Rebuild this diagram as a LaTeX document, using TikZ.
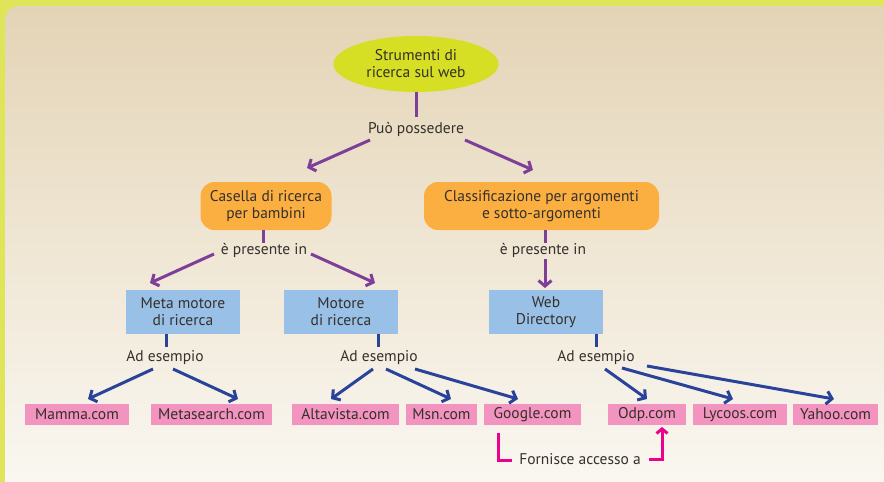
\documentclass[tikz,border=0pt]{standalone}
\usepackage{fontspec}
\setmainfont{PT Sans}
\usetikzlibrary{shapes.geometric,arrows.meta,calc}
\definecolor{frameyel}{HTML}{DFE558}
\definecolor{bgtop}{HTML}{E4D4B6}
\definecolor{bgbot}{HTML}{FBF9F4}
\definecolor{ellfill}{HTML}{D6DF23}
\definecolor{orangefill}{HTML}{FBAF41}
\definecolor{bluefill}{HTML}{99C0E6}
\definecolor{pinkfill}{HTML}{F393BF}
\definecolor{purpleline}{HTML}{7D3F98}
\definecolor{blueline}{HTML}{2A439A}
\definecolor{magline}{HTML}{EC008C}
\definecolor{txt}{HTML}{35302C}
\begin{document}
\begin{tikzpicture}[x=1pt,y=-1pt,
  font=\fontsize{15.5}{17}\selectfont, text=txt,
  ell/.style={ellipse, fill=ellfill, minimum width=165pt, minimum height=56pt, inner sep=0pt, align=center},
  obox/.style={rounded corners=14pt, fill=orangefill, minimum height=48pt, align=center, inner sep=0pt},
  bbox/.style={fill=bluefill, minimum width=114pt, minimum height=44pt, align=center, inner sep=0pt},
  pbox/.style={fill=pinkfill, minimum height=21pt, inner sep=0pt},
  lbl/.style={inner sep=1pt},
  tipb/.tip={Straight Barb[length=5.5pt,width=13pt]},
  pline/.style={draw=purpleline, line width=3pt},
  parr/.style={pline, -tipb},
  bline/.style={draw=blueline, line width=3pt},
  barr/.style={bline, -tipb},
  mline/.style={draw=magline, line width=3pt},
  marr/.style={mline, -{Straight Barb[length=4.5pt,width=11pt]}}
]
\useasboundingbox (0,0) rectangle (884,482);
% background
\fill[frameyel] (0,0) rectangle (884,482);
\shade[top color=bgtop, bottom color=bgbot, rounded corners=14pt] (5,6) rectangle (905,505);

% nodes
\node[ell] (root) at (416,64) {Strumenti di\\ricerca sul web};
\node[lbl] (pp) at (416,129) {Può possedere};
\node[obox, minimum width=131pt] (cas) at (266,206) {Casella di ricerca\\per bambini};
\node[obox, minimum width=235pt] (cla) at (541.5,206) {Classificazione per argomenti\\e sotto-argomenti};
\node[lbl] (ep1) at (264,250) {è presente in};
\node[lbl] (ep2) at (543,250) {è presente in};
\node[bbox] (meta) at (183,312) {Meta motore\\di ricerca};
\node[bbox] (mot) at (341,312) {Motore\\di ricerca};
\node[bbox] (web) at (546,312) {Web\\Directory};
\node[lbl] (ad1) at (165,358) {Ad esempio};
\node[lbl] (ad2) at (379,358) {Ad esempio};
\node[lbl] (ad3) at (596,358) {Ad esempio};
\node[pbox, minimum width=104pt] (mam) at (77,414.5) {Mamma.com};
\node[pbox, minimum width=121pt] (mse) at (211.5,414.5) {Metasearch.com};
\node[pbox, minimum width=107pt] (alt) at (345.5,414.5) {Altavista.com};
\node[pbox, minimum width=71pt] (msn) at (441.5,414.5) {Msn.com};
\node[pbox, minimum width=97pt] (goo) at (532.5,414.5) {Google.com};
\node[pbox, minimum width=78pt] (odp) at (647,414.5) {Odp.com};
\node[pbox, minimum width=94pt] (lyc) at (740,414.5) {Lycoos.com};
\node[pbox, minimum width=85pt] (yah) at (835.5,414.5) {Yahoo.com};
\node[lbl] (fa) at (580,459) {Fornisce accesso a};

% arrow end points
\coordinate (eCas) at (307,168);
\coordinate (eCla) at (533,170);
\coordinate (eMeta) at (150,283);
\coordinate (eMot) at (375,283);
\coordinate (eMam) at (88,399);
\coordinate (eMse) at (238,399);
\coordinate (eAlt) at (331,399);
\coordinate (eMsn) at (451,399);
\coordinate (eGoo) at (518,399);
\coordinate (eOdp) at (647,399);
\coordinate (eLyc) at (733,399);
\coordinate (eYah) at (834,399);

% connectors
\draw[pline] (root.south) -- (416,117);
\draw[parr] (370,140) -- (eCas);
\draw[parr] (465,140) -- (eCla);
\draw[pline] (263,230) -- (263,243);
\draw[parr] (214,254) -- (eMeta);
\draw[parr] (311,254) -- (eMot);
\draw[pline] (545,230) -- (545,243);
\draw[parr] (545,259) -- (545,288);

\draw[bline] (166,334) -- (166,347);
\draw[bline] (378,334) -- (378,347);
\draw[bline] (596,334) -- (596,347);
\draw[barr] (153,369) -- (eMam);
\draw[barr] (173,369) -- (eMse);
\draw[barr] (373,369) -- (eAlt);
\draw[barr] (386,369) -- (eMsn);
\draw[barr] (415,369) -- (eGoo);
\draw[barr] (605,369) -- (eOdp);
\draw[barr] (622,368) -- (eLyc);
\draw[barr] (647,366) -- (eYah);

\draw[mline] (498,433) |- (512,460);
\draw[marr] (649,459) -| (662,427);
\end{tikzpicture}
\end{document}
